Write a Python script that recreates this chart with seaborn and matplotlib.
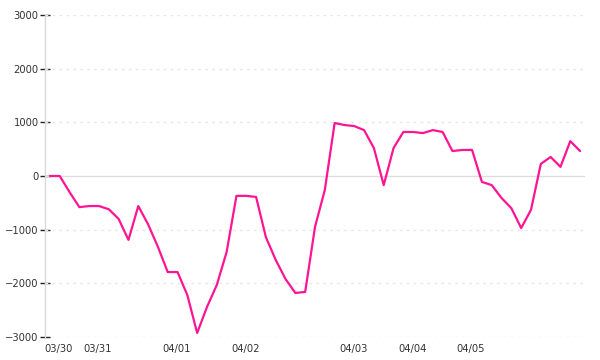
import matplotlib
matplotlib.use("Agg")
import matplotlib.pyplot as plt
import seaborn as sns
import numpy as np
import pandas as pd

values = [0, 0, -300, -580, -560, -560, -620, -800, -1190, -560,
          -900, -1320, -1790, -1790, -2220, -2925, -2440, -2030, -1415, -370,
          -370, -390, -1140, -1565, -1920, -2180, -2160, -950, -260, 987,
          950, 930, 855, 520, -170, 520, 820, 820, 800, 855,
          820, 465, 485, 485, -110, -170, -410, -600, -970, -630,
          225, 355, 170, 650, 465]
tick_index = [1, 5, 13, 20, 31, 37, 43]
tick_labels = ["03/30", "03/31", "04/01", "04/02", "04/03", "04/04", "04/05"]
y_ticks = [-3000, -2000, -1000, 0, 1000, 2000, 3000]

df = pd.DataFrame({"i": np.arange(len(values)), "v": values})

sns.set_style("white")
plt.rcParams["font.family"] = ["DejaVu Sans"]

fig = plt.figure(figsize=(6, 3.6), dpi=100)
ax = fig.add_axes([45/600, 1-337/360, 540/600, 322/360])

for t in y_ticks:
    if t == 0:
        ax.axhline(t, color="#dddddd", lw=1.0, zorder=1)
    else:
        ax.axhline(t, color="#e8e8e8", lw=1.0, ls=(0, (2, 3)), zorder=1)

sns.lineplot(data=df, x="i", y="v", ax=ax, color="#ff1493", lw=1.6, zorder=3)

ax.set_xlim(-0.5, len(values) - 0.5)
ax.set_ylim(-3000, 3000)
ax.set_yticks(y_ticks)
ax.set_yticklabels([str(t).replace("-", "\u2212") for t in y_ticks])
ax.set_xticks([t - 0.1 for t in tick_index])
ax.set_xticklabels(tick_labels)
ax.set_xlabel("")
ax.set_ylabel("")

for s in ["top", "right", "bottom"]:
    ax.spines[s].set_visible(False)
ax.spines["left"].set_color("#d9d9d9")
ax.spines["left"].set_linewidth(1.0)

ax.tick_params(axis="y", left=True, direction="inout", length=7, width=1, color="#222222",
               labelsize=7.2, labelcolor="#333333", pad=1)
ax.tick_params(axis="x", bottom=False, length=0, labelsize=7.2, labelcolor="#333333", pad=5)
ax.grid(False)

fig.savefig("out.png", dpi=100)
